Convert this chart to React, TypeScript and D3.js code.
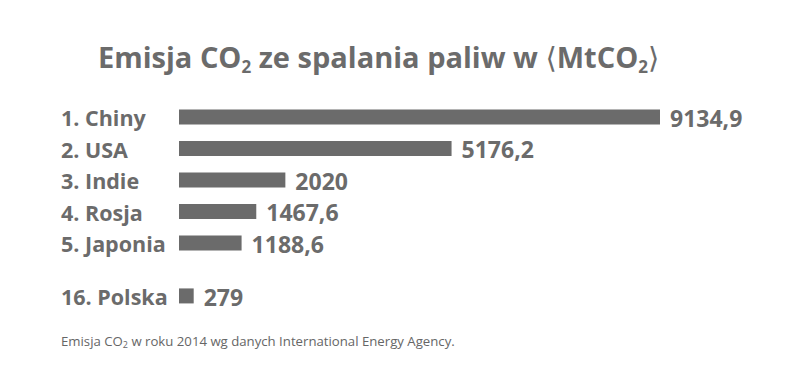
import React from "react";
import * as d3 from "d3";

const topNames = ["1. Chiny", "2. USA", "3. Indie", "4. Rosja", "5. Japonia"];
const topValues = [9134.9, 5176.2, 2020, 1467.6, 1188.6];
const topLabels = ["9134,9", "5176,2", "2020", "1467,6", "1188,6"];
const extraName = "16. Polska";
const extraValue = 279;
const extraLabel = "279";

const W = 800;
const H = 383;
const GREY = "#6b6b6b";
const FONT = "'Open Sans', 'DejaVu Sans', sans-serif";

export default function App() {
  const x = d3.scaleLinear().domain([0, 9134.9]).range([179, 660]);
  const y = d3.scaleLinear().domain([0, 4]).range([117, 243]);
  const step = y(1) - y(0);
  const barH = 15;
  const rows = topNames.map((n, i) => ({ name: n, value: topValues[i], label: topLabels[i], cy: y(i) }));
  rows.push({ name: extraName, value: extraValue, label: extraLabel, cy: y(4) + step * 1.68 });

  return (
    <svg width={W} height={H} style={{ position: "absolute", left: 0, top: 0, background: "#fff" }}>
      <rect width={W} height={H} fill="#fff" />
      <text x={98} y={68} fontFamily={FONT} fontWeight={700} fontSize={29} fill={GREY}>
        Emisja CO<tspan fontSize={17} dy={5}>2</tspan>
        <tspan dy={-5}> ze spalania paliw w </tspan>
        <tspan fontFamily="'DejaVu Sans', sans-serif" fontWeight={400}>⟨</tspan>
        MtCO<tspan fontSize={17} dy={5}>2</tspan>
        <tspan dy={-5} fontFamily="'DejaVu Sans', sans-serif" fontWeight={400}>⟩</tspan>
      </text>
      {rows.map((r) => (
        <g key={r.name}>
          <text x={61} y={r.cy} dy="0.43em" fontFamily={FONT} fontWeight={700} fontSize={21.5} fill={GREY}>
            {r.name}
          </text>
          <rect x={x(0)} y={r.cy - barH / 2} width={x(r.value) - x(0)} height={barH} fill={GREY} />
          <text x={x(r.value) + 10} y={r.cy} dy="0.43em" fontFamily={FONT} fontWeight={700} fontSize={23} fill={GREY}>
            {r.label}
          </text>
        </g>
      ))}
      <text x={61} y={346} fontFamily={FONT} fontSize={13.2} fill="#666">
        Emisja CO<tspan fontSize={9} dy={2}>2</tspan>
        <tspan dy={-2}> w roku 2014 wg danych International Energy Agency.</tspan>
      </text>
    </svg>
  );
}
